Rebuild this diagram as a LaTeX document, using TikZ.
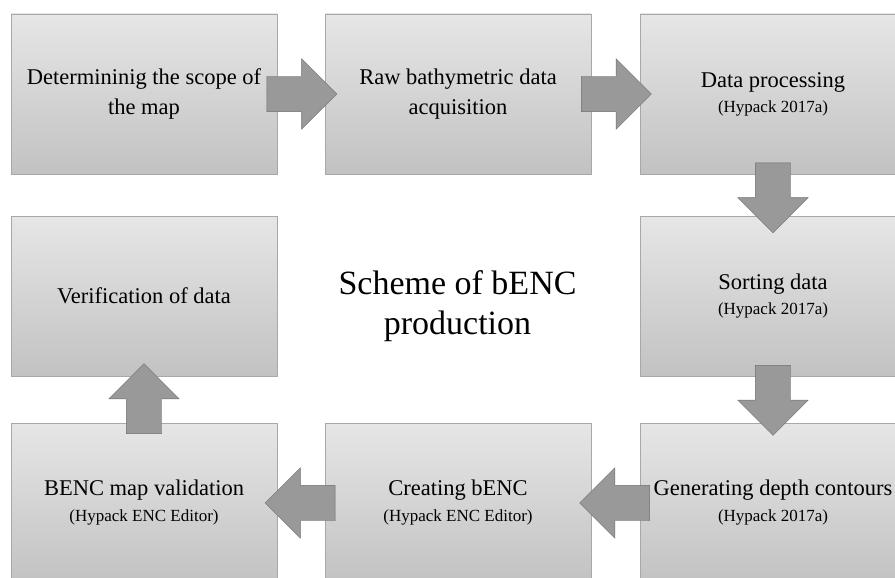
\documentclass[tikz,border=0pt]{standalone}
\usepackage{fontspec}
\setmainfont{Liberation Serif}
\usetikzlibrary{positioning}
\usetikzlibrary{calc}
\usetikzlibrary{shapes.arrows}

\definecolor{boxtop}{HTML}{E6E6E6}
\definecolor{boxbot}{HTML}{C2C2C2}
\definecolor{boxline}{HTML}{A8A8A8}
\definecolor{arrfill}{HTML}{999999}
\definecolor{arrline}{HTML}{6E6E6E}

\newcommand{\tool}[1]{{\fontsize{17}{20}\selectfont #1}}

\begin{document}
\begin{tikzpicture}[x=1pt,y=-1pt]
            \useasboundingbox (0,0) rectangle (895,578);
            \clip (0,0) rectangle (895,578);

            \begin{scope}[every node/.style={rectangle,draw=boxline,
                top color=boxtop,bottom color=boxbot,
                minimum width=266pt,minimum height=160pt,
                align=center,font=\fontsize{22.5}{30}\selectfont}]
                \node (1) at (144,94) {Determininig the scope of\\the map};
                \node (2) at (458,94) {Raw bathymetric data\\acquisition};
                \node (3) at (773,94) {Data processing\\[-5pt]\tool{(Hypack 2017a)}};
                \node (4) at (773,296) {Sorting data\\[-5pt]\tool{(Hypack 2017a)}};
                \node (5) at (773,503) {Generating depth contours\\[-4pt]\tool{(Hypack 2017a)}};
                \node (6) at (458,503) {Creating bENC\\[-4pt]\tool{(Hypack ENC Editor)}};
                \node (7) at (144,503) {BENC map validation\\[-4pt]\tool{(Hypack ENC Editor)}};
                \node (8) at (144,296) {Verification of data};
            \end{scope}

            \node[align=center,font=\fontsize{34}{40}\selectfont] (title) at (457.5,306) {Scheme of bENC\\production};

            \begin{scope}[every node/.style={single arrow,draw=arrline,fill=arrfill,
                inner sep=0pt,minimum height=70pt,text height=17.5pt,text depth=17.5pt,
                single arrow head extend=17.5pt}]
                \node[xshift=-8pt] (a12) at ($(1.east)!0.5!(2.west)$) {};
                \node[xshift=-8pt] (a23) at ($(2.east)!0.5!(3.west)$) {};
                \node[rotate=-90,xshift=-6pt] (a34) at ($(3.south)!0.5!(4.north)$) {};
                \node[rotate=-90,xshift=-8pt] (a45) at ($(4.south)!0.5!(5.north)$) {};
                \node[rotate=180,xshift=-8pt] (a56) at ($(5.west)!0.5!(6.east)$) {};
                \node[rotate=180,xshift=-8pt] (a67) at ($(6.west)!0.5!(7.east)$) {};
                \node[rotate=90,xshift=-8pt] (a78) at ($(7.north)!0.5!(8.south)$) {};
            \end{scope}
        \end{tikzpicture}
\end{document}
